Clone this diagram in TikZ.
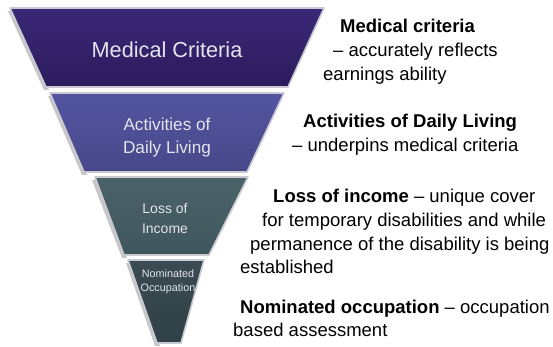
\documentclass[tikz,border=0pt]{standalone}
\usepackage{fontspec}
\setmainfont{Liberation Sans}
\definecolor{segA}{HTML}{2C1B5C}
\definecolor{segAt}{HTML}{3A2878}
\definecolor{segB}{HTML}{474889}
\definecolor{segBt}{HTML}{5354A0}
\definecolor{segC}{HTML}{3E565C}
\definecolor{segCt}{HTML}{4A6268}
\definecolor{segD}{HTML}{2F4046}
\definecolor{segDt}{HTML}{3A4C52}
\definecolor{rimcol}{HTML}{C9C9D2}
\definecolor{intext}{HTML}{E4E4EC}
\begin{document}
\begin{tikzpicture}[x=1pt,y=-1pt,
  seg/.style={draw=rimcol,line width=1.6pt,line join=round},
  shadowseg/.style={fill=black!22,draw=none},
  intxt/.style={inner sep=0pt,text=intext,anchor=base},
  rtxt/.style={inner sep=0pt,text=black,anchor=base west,font=\fontsize{18.5}{24}\selectfont}]
\useasboundingbox (0,0) rectangle (553,347);
% shadows
\fill[shadowseg] (8,11) -- (44,90) -- (49,90) -- (13,11) -- cycle;
\fill[shadowseg] (48,96) -- (82,175) -- (87,175) -- (53,96) -- cycle;
\fill[shadowseg] (92,180) -- (122,258) -- (127,258) -- (97,180) -- cycle;
\fill[shadowseg] (126,263) -- (155,346) -- (160,346) -- (131,263) -- cycle;
% segments
\path[seg,top color=segAt,bottom color=segA] (10,8) -- (324,8) -- (288,87) -- (46,87) -- cycle;
\path[seg,top color=segBt,bottom color=segB] (50,93) -- (284,93) -- (247,172) -- (84,172) -- cycle;
\path[seg,top color=segCt,bottom color=segC] (95,177) -- (248,177) -- (209,255) -- (124,255) -- cycle;
\path[seg,top color=segDt,bottom color=segD] (128,260) -- (204,260) -- (181,343) -- (157,343) -- cycle;
% funnel texts
\node[intxt,font=\fontsize{21.7}{26}\selectfont] (mc) at (167,58) {Medical Criteria};
\node[intxt,font=\fontsize{17.2}{22}\selectfont] (adl1) at (167,131) {Activities of};
\node[intxt,font=\fontsize{17.2}{22}\selectfont] (adl2) at (167,153.5) {Daily Living};
\node[intxt,font=\fontsize{14}{18}\selectfont] (li1) at (165,213) {Loss of};
\node[intxt,font=\fontsize{14}{18}\selectfont] (li2) at (165,233) {Income};
\node[intxt,font=\fontsize{10.8}{14}\selectfont] (no1) at (168,277.5) {Nominated};
\node[intxt,font=\fontsize{10.8}{14}\selectfont] (no2) at (168,291.5) {Occupation};
% right texts
\node[rtxt] (r1a) at (340,33) {\textbf{Medical criteria}};
\node[rtxt] (r1b) at (333,57) {– accurately reflects};
\node[rtxt] (r1c) at (323,81) {earnings ability};
\node[rtxt] (r2a) at (303,128) {\textbf{Activities of Daily Living}};
\node[rtxt] (r2b) at (292,152) {– underpins medical criteria};
\node[rtxt] (r3a) at (273,202) {\textbf{Loss of income} – unique cover};
\node[rtxt] (r3b) at (262,226) {for temporary disabilities and while};
\node[rtxt] (r3c) at (250,250) {permanence of the disability is being};
\node[rtxt] (r3d) at (240,273) {established};
\node[rtxt] (r4a) at (240,313) {\textbf{Nominated occupation} – occupation};
\node[rtxt] (r4b) at (233,336) {based assessment};
\end{tikzpicture}
\end{document}
